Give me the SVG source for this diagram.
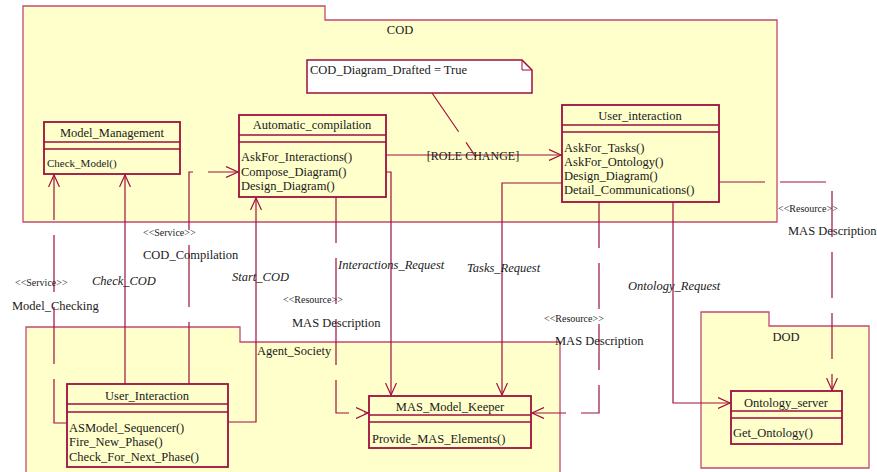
<svg xmlns="http://www.w3.org/2000/svg" width="877" height="472" viewBox="0 0 877 472">
<style>
.pkg{fill:#ffffcc;stroke:#c24a72;stroke-width:1.3}
.cls{fill:#ffffcc;stroke:#9e0f3f;stroke-width:1.8}
.sep{stroke:#9e0f3f;stroke-width:1.3;fill:none}
.ln{fill:none;stroke:#a0103e;stroke-width:1.2}
.dash{stroke-dasharray:46 15}
text{font-family:"Liberation Serif","Times New Roman",serif;fill:#1a1a1a}
.t{font-size:12.5px}
.tc{font-size:12.5px;text-anchor:middle}
.m{font-size:12.5px}
.s{font-size:10px}
.i{font-size:12.5px;font-style:italic}
</style>
<defs>
<marker id="arr" markerUnits="userSpaceOnUse" markerWidth="14" markerHeight="12" refX="12" refY="6" orient="auto">
<path d="M0,0.5 L12,6 L0,11.5" fill="none" stroke="#a0103e" stroke-width="1.2"/>
</marker>
</defs>

<g id="pkg-COD">
<path class="pkg" d="M23,6 H325 V20 H777 V222 H23 Z"/>
<text class="tc" x="400" y="34">COD</text>
</g>
<g id="pkg-Agent_Society">
<path class="pkg" d="M26,480 V327 H240 V342 H560 V480"/>
<text class="t" x="257" y="355">Agent_Society</text>
</g>
<g id="pkg-DOD">
<path class="pkg" d="M701,312 H769 V326 H869 V468 H701 Z"/>
<text class="tc" x="786" y="341">DOD</text>
</g>

<g id="note">
<path d="M307,60 H522 L532,70 V93 H307 Z" fill="#ffffff" stroke="#9e0f3f" stroke-width="1.5"/>
<path d="M522,60 V70 H532" fill="none" stroke="#9e0f3f" stroke-width="1"/>
<text class="m" x="310" y="74">COD_Diagram_Drafted = True</text>
</g>

<g id="connectors">
<path class="ln" d="M432,93 L476,157" stroke-dasharray="47 13"/>
<path class="ln" d="M386,155 H561" marker-end="url(#arr)"/>
<text class="t" x="473" y="160" text-anchor="middle" style="font-size:12px">[ROLE CHANGE]</text>

<path class="ln" d="M386,172 H391 V395" marker-end="url(#arr)"/>
<text class="i" x="338" y="269">Interactions_Request</text>

<path class="ln dash" d="M336,197 V413 H368" marker-end="url(#arr)"/>
<text class="s" x="283" y="303">&lt;&lt;Resource&gt;&gt;</text>
<text class="t" x="292" y="327">MAS Description</text>

<path class="ln" d="M562,183 H502 V395" marker-end="url(#arr)"/>
<text class="i" x="467" y="272">Tasks_Request</text>

<path class="ln dash" d="M599,202 V413 H532" marker-end="url(#arr)"/>
<text class="s" x="544" y="322">&lt;&lt;Resource&gt;&gt;</text>
<text class="t" x="555" y="345">MAS Description</text>

<path class="ln" d="M673,202 V403 H730" marker-end="url(#arr)"/>
<text class="i" x="628" y="290">Ontology_Request</text>

<path class="ln dash" d="M719,182 H832 V390" marker-end="url(#arr)"/>
<text class="s" x="778" y="212">&lt;&lt;Resource&gt;&gt;</text>
<text class="t" x="788" y="235">MAS Description</text>

<path class="ln" d="M125,384 V175" marker-end="url(#arr)"/>
<text class="i" x="92" y="285">Check_COD</text>

<path class="ln" d="M67,423 H54 V175" stroke-dasharray="57 15" marker-end="url(#arr)"/>
<text class="s" x="15" y="286">&lt;&lt;Service&gt;&gt;</text>
<text class="t" x="12" y="310">Model_Checking</text>

<path class="ln" d="M189,384 V172 H238" stroke-dasharray="62 15" marker-end="url(#arr)"/>
<text class="s" x="143" y="236">&lt;&lt;Service&gt;&gt;</text>
<text class="t" x="143" y="259">COD_Compilation</text>

<path class="ln" d="M228,422 H256 V198" marker-end="url(#arr)"/>
<text class="i" x="232" y="281">Start_COD</text>
</g>

<g id="Model_Management">
<rect class="cls" x="44" y="122" width="136" height="52"/>
<path class="sep" d="M44,142 H180 M44,149 H180"/>
<text class="tc" x="112" y="137">Model_Management</text>
<text x="47" y="167" style="font-size:11px">Check_Model()</text>
</g>

<g id="Automatic_compilation">
<rect class="cls" x="239" y="115" width="147" height="82"/>
<path class="sep" d="M239,135 H386 M239,142 H386"/>
<text class="tc" x="312" y="129">Automatic_compilation</text>
<text class="m" x="241" y="161">AskFor_Interactions()</text>
<text class="m" x="241" y="176">Compose_Diagram()</text>
<text class="m" x="241" y="190">Design_Diagram()</text>
</g>

<g id="User_interaction">
<rect class="cls" x="562" y="105" width="157" height="97"/>
<path class="sep" d="M562,125 H719 M562,132 H719"/>
<text class="tc" x="640" y="120">User_interaction</text>
<text class="m" x="564" y="152">AskFor_Tasks()</text>
<text class="m" x="564" y="166">AskFor_Ontology()</text>
<text class="m" x="564" y="180">Design_Diagram()</text>
<text class="m" x="564" y="194">Detail_Communications()</text>
</g>

<g id="User_Interaction">
<rect class="cls" x="67" y="384" width="161" height="83"/>
<path class="sep" d="M67,404 H228 M67,412 H228"/>
<text class="tc" x="147" y="400">User_Interaction</text>
<text class="m" x="69" y="432">ASModel_Sequencer()</text>
<text class="m" x="69" y="446">Fire_New_Phase()</text>
<text class="m" x="69" y="461">Check_For_Next_Phase()</text>
</g>

<g id="MAS_Model_Keeper">
<rect class="cls" x="369" y="396" width="162" height="52"/>
<path class="sep" d="M369,415 H531 M369,422 H531"/>
<text class="tc" x="450" y="411">MAS_Model_Keeper</text>
<text class="m" x="372" y="443">Provide_MAS_Elements()</text>
</g>

<g id="Ontology_server">
<rect class="cls" x="731" y="391" width="111" height="53"/>
<path class="sep" d="M731,411 H842 M731,418 H842"/>
<text class="tc" x="786" y="407">Ontology_server</text>
<text class="m" x="733" y="437">Get_Ontology()</text>
</g>
</svg>
